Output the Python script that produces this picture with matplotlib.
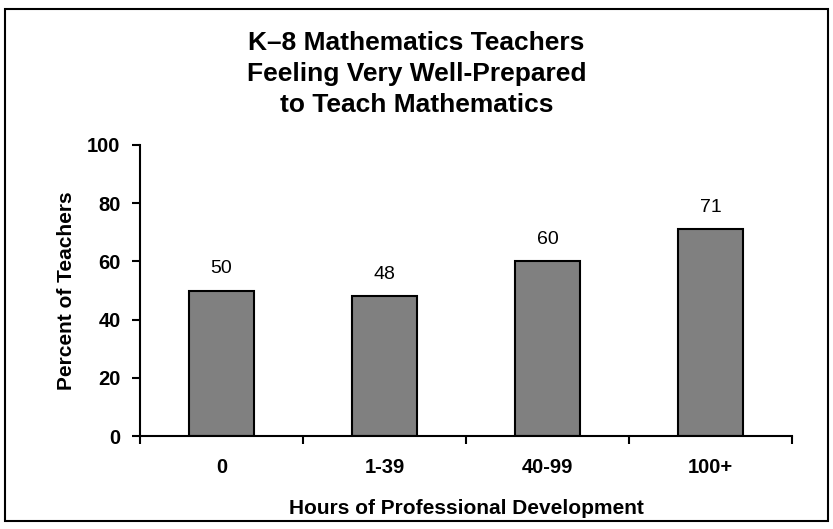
import matplotlib
matplotlib.use("Agg")
import matplotlib.pyplot as plt
from matplotlib.patches import Rectangle
import numpy as np

# data
categories = ["0", "1-39", "40-99", "100+"]
percent = [50, 48, 60, 71]
y_ticks = [0, 20, 40, 60, 80, 100]

plt.rcParams['font.family'] = ['Liberation Sans', 'DejaVu Sans']

fig = plt.figure(figsize=(8.33, 5.29), dpi=100)
ax = fig.add_axes([140 / 833, 1 - 436 / 529, 652 / 833, 291 / 529])

x = np.arange(len(categories))
bars = ax.bar(x, percent, width=0.4, color="#808080", edgecolor="black", linewidth=1.5)
for b, v in zip(bars, percent):
    ax.annotate(str(v), (b.get_x() + b.get_width() / 2, v), xytext=(0, 16), textcoords="offset points",
                ha="center", va="center", fontsize=14)

ax.set_xlim(-0.5, len(categories) - 0.5)
ax.set_ylim(0, 100)
ax.set_yticks(y_ticks)
ax.set_yticklabels([str(t) for t in y_ticks], fontsize=14.5, fontweight="bold")
ax.set_xticks(x)
ax.set_xticklabels(categories, fontsize=14.5, fontweight="bold")
ax.set_xticks(np.arange(len(categories) + 1) - 0.5, minor=True)
ax.tick_params(axis="x", which="major", length=0, pad=16)
ax.tick_params(axis="x", which="minor", length=6, width=1.5, direction="out")
ax.tick_params(axis="y", length=6, width=1.5, direction="out", pad=8)

for s in ["top", "right"]:
    ax.spines[s].set_visible(False)
for s in ["left", "bottom"]:
    ax.spines[s].set_linewidth(1.5)

ax.set_ylabel("Percent of Teachers", fontsize=15, fontweight="bold", labelpad=8)
ax.set_xlabel("Hours of Professional Development", fontsize=15, fontweight="bold", labelpad=16)

fig.text(0.5, 1 - 74 / 529, "K\u20138 Mathematics Teachers\nFeeling Very Well-Prepared\nto Teach Mathematics",
         ha="center", va="center", fontsize=19, fontweight="bold", linespacing=1.37)

# frame around the whole chart
fig.add_artist(Rectangle((5 / 833, 1 - 521 / 529), 823 / 833, 512 / 529, transform=fig.transFigure,
                         fill=False, edgecolor="black", linewidth=1.5))

fig.savefig("out.png", dpi=100)
